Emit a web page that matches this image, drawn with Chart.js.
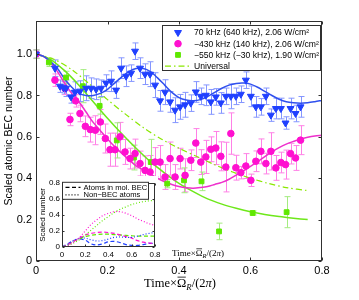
<!DOCTYPE html>
<html><head><meta charset="utf-8">
<script src="https://cdn.jsdelivr.net/npm/chart.js@4.4.1/dist/chart.umd.min.js"></script>
<style>
html,body{margin:0;padding:0;background:#fff;}
#wrap{position:relative;width:359px;height:300px;overflow:hidden;}
#main{position:absolute;left:0;top:0;}
#inset{position:absolute;left:37px;top:176px;}
</style></head><body>
<div id="wrap"><canvas id="main" width="359" height="300"></canvas><canvas id="inset" width="200" height="84"></canvas></div>
<script>
// ---------- data ----------
const xTicks = [0, 0.2, 0.4, 0.6, 0.8];
const yTicks = [0, 0.2, 0.4, 0.6, 0.8, 1];
const insetTicks = [0, 0.2, 0.4, 0.6, 0.8];

const legendLabels = ["70 kHz (640 kHz), 2.06 W/cm\u00B2", "\u2212430 kHz (140 kHz), 2.06 W/cm\u00B2", "\u2212550 kHz (\u221230 kHz), 1.90 W/cm\u00B2", "Universal"];
const insetLegendLabels = ["Atoms in mol. BEC", "Non\u2212BEC atoms"];

const blueX = [0,0.053,0.067,0.077,0.084,0.098,0.109,0.123,0.140,0.154,0.168,0.182,0.196,0.210,0.224,0.238,0.252,0.266,0.277,0.291,0.305,0.319,0.333,0.347,0.361,0.375,0.389,0.403,0.417,0.433,0.447,0.461,0.475,0.489,0.503,0.517,0.531,0.545,0.559,0.573,0.587,0.601,0.615,0.629,0.643,0.657,0.671,0.685,0.698,0.712,0.726,0.740];
const blueY = [1.0,0.932,0.845,0.837,0.835,0.793,0.816,0.821,0.835,0.835,0.83,0.835,0.86,0.869,0.826,0.932,0.893,0.908,1.014,0.932,0.903,0.903,0.850,0.774,0.816,0.769,0.729,0.745,0.755,0.763,0.817,0.796,0.801,0.769,0.793,0.764,0.796,0.796,0.796,0.806,0.874,0.796,0.745,0.745,0.796,0.705,0.737,0.737,0.667,0.737,0.713,0.745];
const blueErr = [0.02,0.04,0.03,0.03,0.04,0.03,0.05,0.05,0.06,0.05,0.05,0.04,0.04,0.05,0.04,0.05,0.05,0.04,0.04,0.05,0.05,0.06,0.06,0.05,0.06,0.05,0.06,0.06,0.06,0.04,0.05,0.04,0.05,0.06,0.04,0.05,0.04,0.06,0.04,0.04,0.04,0.05,0.05,0.04,0.04,0.03,0.05,0.05,0.03,0.05,0.04,0.05];

const magX = [0,0.053,0.081,0.095,0.111,0.123,0.138,0.152,0.166,0.180,0.194,0.207,0.221,0.235,0.249,0.263,0.277,0.291,0.305,0.319,0.333,0.347,0.361,0.375,0.389,0.403,0.417,0.433,0.447,0.461,0.475,0.489,0.503,0.517,0.531,0.545,0.559,0.573,0.587,0.601,0.615,0.629,0.643,0.657,0.671,0.685,0.698,0.712,0.726,0.740];
const magY = [1.0,0.874,0.834,0.684,0.774,0.713,0.651,0.635,0.632,0.672,0.592,0.538,0.538,0.60,0.527,0.495,0.519,0.471,0.438,0.43,0.478,0.478,0.406,0.495,0.406,0.495,0.414,0.487,0.57,0.478,0.503,0.54,0.546,0.506,0.454,0.616,0.451,0.427,0.459,0.39,0.482,0.53,0.471,0.53,0.45,0.476,0.466,0.519,0.498,0.584];
const magErr = [0.02,0.03,0.03,0.03,0.03,0.04,0.05,0.06,0.07,0.06,0.07,0.08,0.08,0.07,0.06,0.05,0.07,0.06,0.07,0.08,0.07,0.08,0.06,0.08,0.06,0.05,0.08,0.05,0.07,0.06,0.08,0.06,0.08,0.07,0.12,0.10,0.06,0.03,0.06,0.03,0.05,0.06,0.05,0.09,0.06,0.05,0.07,0.05,0.06,0.07];

const greenX = [0,0.036,0.084,0.131,0.178,0.226,0.274,0.321,0.367,0.414,0.463,0.512,0.606,0.701];
const greenY = [1.0,0.96,0.887,0.845,0.75,0.583,0.50,0.478,0.374,0.39,0.385,0.143,0.232,0.236];
const greenErr = [0.02,0.02,0.03,0.08,0.04,0.085,0.06,0.11,0.02,0.06,0.045,0.04,0.01,0.075];

const fitX = [0,0.02,0.04,0.06,0.08,0.10,0.12,0.14,0.16,0.18,0.20,0.22,0.24,0.26,0.28,0.30,0.32,0.34,0.36,0.38,0.40,0.42,0.44,0.46,0.48,0.50,0.52,0.54,0.56,0.58,0.60,0.62,0.64,0.66,0.68,0.70,0.72,0.74,0.76,0.78,0.80];
const blueFitY = [1.0,0.99,0.965,0.93,0.88,0.84,0.81,0.80,0.80,0.81,0.83,0.86,0.89,0.915,0.93,0.93,0.915,0.885,0.85,0.815,0.79,0.778,0.775,0.78,0.795,0.815,0.835,0.85,0.858,0.86,0.855,0.84,0.82,0.80,0.782,0.77,0.765,0.763,0.765,0.77,0.776];
const magFitY = [1.0,0.99,0.96,0.915,0.86,0.81,0.77,0.72,0.67,0.63,0.59,0.553,0.52,0.49,0.46,0.44,0.42,0.40,0.383,0.37,0.36,0.354,0.352,0.355,0.36,0.37,0.38,0.395,0.415,0.435,0.457,0.48,0.505,0.528,0.548,0.565,0.578,0.59,0.598,0.604,0.608];
const greenFitX = [0,0.04,0.08,0.12,0.16,0.20,0.24,0.28,0.32,0.36,0.40,0.44,0.48,0.52,0.56,0.60,0.64,0.68,0.72,0.76];
const greenFitY = [1.0,0.975,0.92,0.85,0.77,0.69,0.615,0.545,0.48,0.425,0.375,0.335,0.30,0.275,0.255,0.238,0.225,0.215,0.207,0.20];
const universalX = [0,0.05,0.1,0.15,0.2,0.25,0.3,0.35,0.4,0.45,0.5,0.55,0.6,0.65,0.7,0.76];
const universalY = [1.0,0.975,0.925,0.855,0.78,0.71,0.645,0.59,0.545,0.505,0.465,0.43,0.40,0.375,0.355,0.34];

const insetX = [0,0.05,0.1,0.15,0.2,0.25,0.3,0.35,0.4,0.45,0.5,0.55,0.6,0.65,0.7,0.75,0.8];
const blueMol = [0,0.04,0.08,0.1,0.085,0.04,0.025,0.04,0.065,0.07,0.055,0.03,0.02,0.02,0.03,0.045,0.045];
const blueNon = [0,0.03,0.08,0.11,0.11,0.09,0.075,0.08,0.1,0.12,0.125,0.12,0.12,0.135,0.155,0.17,0.18];
const magMol = [0,0.03,0.07,0.11,0.15,0.17,0.18,0.185,0.18,0.17,0.15,0.13,0.11,0.08,0.06,0.05,0.04];
const magNon = [0,0.02,0.06,0.12,0.2,0.28,0.34,0.39,0.42,0.44,0.44,0.42,0.39,0.35,0.32,0.29,0.27];
const greenMol = [0,0.03,0.07,0.1,0.13,0.145,0.155,0.16,0.16,0.155,0.15,0.145,0.14,0.135,0.135,0.135,0.135];
const greenNon = [0,0.02,0.05,0.09,0.15,0.21,0.27,0.33,0.38,0.43,0.47,0.50,0.53,0.55,0.565,0.575,0.58];

// ---------- styles ----------
const SANS = '"Liberation Sans", Arial, sans-serif';
const SERIF = '"Liberation Serif", "DejaVu Serif", serif';
const C = {
  blue:'#2040ff', blueErr:'#8596ff', blueLine:'#3050ee',
  mag:'#ff10d0', magErr:'#ff80e6', magLine:'#ee30cc',
  green:'#5fe800', greenErr:'#a4ec80', greenLine:'#6ee81a', uni:'#8ae800'
};
const pts = (xs, ys) => xs.map((x, i) => ({x, y: ys[i]}));

const errorBars = {
  id: 'errorBars',
  beforeDatasetsDraw(chart) {
    const {ctx, scales: {x, y}} = chart;
    chart.data.datasets.forEach(ds => {
      if (!ds.errors) return;
      ctx.save();
      ctx.strokeStyle = ds.errColor; ctx.lineWidth = 1;
      ds.data.forEach((p, i) => {
        const e = ds.errors[i];
        const px = Math.round(x.getPixelForValue(p.x)) + 0.5;
        const y1 = y.getPixelForValue(p.y + e), y2 = y.getPixelForValue(p.y - e);
        ctx.beginPath();
        ctx.moveTo(px, y1); ctx.lineTo(px, y2);
        ctx.moveTo(px - 3, y1); ctx.lineTo(px + 3, y1);
        ctx.moveTo(px - 3, y2); ctx.lineTo(px + 3, y2);
        ctx.stroke();
      });
      ctx.restore();
    });
  }
};

function frameAndTicks(chart, xt, yt, len) {
  const {ctx, chartArea: a, scales: {x, y}} = chart;
  ctx.save();
  ctx.strokeStyle = '#303030'; ctx.lineWidth = 1;
  const L = Math.round(a.left) + 0.5, R = Math.round(a.right) - 0.5, T = Math.round(a.top) + 0.5, B = Math.round(a.bottom) - 0.5;
  ctx.strokeRect(L, T, R - L, B - T);
  ctx.beginPath();
  xt.forEach(v => { const px = Math.round(x.getPixelForValue(v)) + 0.5; ctx.moveTo(px, B); ctx.lineTo(px, B - len); ctx.moveTo(px, T); ctx.lineTo(px, T + len); });
  yt.forEach(v => { const py = Math.round(y.getPixelForValue(v)) + 0.5; ctx.moveTo(L, py); ctx.lineTo(L + len, py); ctx.moveTo(R, py); ctx.lineTo(R - len, py); });
  ctx.stroke();
  ctx.restore();
}

function drawTimeLabel(ctx, cx, cy, size) {
  const parts = [
    {t: 'Time\u00D7', f: size + 'px ' + SERIF, dy: 0},
    {t: '\u03A9', f: size + 'px ' + SERIF, dy: 0, bar: true},
    {t: 'R', f: 'italic ' + (size * 0.7) + 'px ' + SERIF, dy: size * 0.22},
    {t: '/(2', f: size + 'px ' + SERIF, dy: 0},
    {t: '\u03C0', f: 'italic ' + size + 'px ' + SERIF, dy: 0},
    {t: ')', f: size + 'px ' + SERIF, dy: 0}
  ];
  ctx.save();
  ctx.fillStyle = '#000'; ctx.textBaseline = 'alphabetic'; ctx.textAlign = 'left';
  let w = 0;
  parts.forEach(p => { ctx.font = p.f; p.w = ctx.measureText(p.t).width; w += p.w; });
  let x = cx - w / 2;
  const base = cy + size * 0.35;
  parts.forEach(p => {
    ctx.font = p.f;
    ctx.fillText(p.t, x, base + p.dy);
    if (p.bar) {
      ctx.strokeStyle = '#000'; ctx.lineWidth = Math.max(0.7, size / 16);
      ctx.beginPath(); const yb = base - size * 0.82; ctx.moveTo(x + 0.5, yb); ctx.lineTo(x + p.w - 0.5, yb); ctx.stroke();
    }
    x += p.w;
  });
  ctx.restore();
}

const mainDecor = {
  id: 'mainDecor',
  afterDraw(chart) {
    frameAndTicks(chart, xTicks, yTicks, 3);
    const ctx = chart.ctx;
    // y title
    ctx.save();
    ctx.translate(9, (chart.chartArea.top + chart.chartArea.bottom) / 2);
    ctx.rotate(-Math.PI / 2);
    ctx.font = '10.5px ' + SANS; ctx.fillStyle = '#000'; ctx.textAlign = 'center'; ctx.textBaseline = 'middle';
    ctx.fillText('Scaled atomic BEC number', 0, 0);
    ctx.restore();
    drawTimeLabel(ctx, 180, 283, 12.5);
    // legend
    const bx = 162.5, by = 25.5, bw = 158, bh = 45;
    ctx.save();
    ctx.fillStyle = '#fff'; ctx.fillRect(bx, by, bw, bh);
    ctx.strokeStyle = '#303030'; ctx.lineWidth = 1; ctx.strokeRect(bx, by, bw, bh);
    const items = [chart.data.datasets[0], chart.data.datasets[1], chart.data.datasets[2], chart.data.datasets[6]];
    items.forEach((ds, i) => {
      const yy = 32.5 + i * 11.2;
      if (i < 3) {
        ctx.fillStyle = ds.backgroundColor; ctx.strokeStyle = ds.borderColor; ctx.lineWidth = 1;
        Chart.helpers.drawPoint(ctx, {pointStyle: ds.pointStyle, rotation: ds.rotation || 0, radius: ds.pointRadius, borderWidth: 1}, 178, yy);
      } else {
        ctx.strokeStyle = ds.borderColor; ctx.lineWidth = ds.borderWidth; ctx.setLineDash(ds.borderDash);
        ctx.beginPath(); ctx.moveTo(165, yy); ctx.lineTo(191, yy); ctx.stroke(); ctx.setLineDash([]);
      }
      ctx.fillStyle = '#000'; ctx.font = '8.6px ' + SANS; ctx.textAlign = 'left'; ctx.textBaseline = 'middle';
      ctx.fillText(legendLabels[i], 194, yy + 0.5);
    });
    ctx.restore();
  }
};

const tickFont = {family: SANS, size: 11};
new Chart(document.getElementById('main'), {
  type: 'scatter',
  data: {
    datasets: [
      {label: legendLabels[0], data: pts(blueX, blueY), errors: blueErr, errColor: C.blueErr, pointStyle: 'triangle', rotation: 180, pointRadius: 4, backgroundColor: C.blue, borderColor: C.blue, borderWidth: 1, showLine: false, order: 0},
      {label: legendLabels[1], data: pts(magX, magY), errors: magErr, errColor: C.magErr, pointStyle: 'circle', pointRadius: 3.3, backgroundColor: C.mag, borderColor: C.mag, borderWidth: 1, showLine: false, order: 1},
      {label: legendLabels[2], data: pts(greenX, greenY), errors: greenErr, errColor: C.greenErr, pointStyle: 'rect', pointRadius: 3.4, backgroundColor: C.green, borderColor: C.green, borderWidth: 1, showLine: false, order: 2},
      {label: 'fit blue', data: pts(fitX, blueFitY), showLine: true, pointRadius: 0, borderColor: C.blueLine, borderWidth: 1.5, tension: 0.3, order: 3},
      {label: 'fit mag', data: pts(fitX, magFitY), showLine: true, pointRadius: 0, borderColor: C.magLine, borderWidth: 1.5, tension: 0.3, order: 4},
      {label: 'fit green', data: pts(greenFitX, greenFitY), showLine: true, pointRadius: 0, borderColor: C.greenLine, borderWidth: 1.5, tension: 0.3, order: 5},
      {label: legendLabels[3], data: pts(universalX, universalY), showLine: true, pointRadius: 0, borderColor: C.uni, borderWidth: 1.2, borderDash: [6, 3, 1.5, 3], tension: 0.3, order: 6}
    ]
  },
  options: {
    responsive: false, animation: false, devicePixelRatio: 1,
    layout: {padding: {left: 6, top: 21, right: 37, bottom: 19}},
    plugins: {legend: {display: false}, tooltip: {enabled: false}},
    scales: {
      x: {type: 'linear', min: 0, max: 0.8, grid: {display: false, drawTicks: false}, border: {display: false},
          ticks: {font: tickFont, color: '#000', padding: 3, maxRotation: 0},
          afterBuildTicks: s => { s.ticks = xTicks.map(v => ({value: v})); },
          afterFit: s => { s.height = 20; }},
      y: {type: 'linear', min: 0, max: 1.16, grid: {display: false, drawTicks: false}, border: {display: false},
          ticks: {font: tickFont, color: '#000', padding: 4},
          afterBuildTicks: s => { s.ticks = yTicks.map(v => ({value: v})); },
          afterFit: s => { s.width = 30; }}
    }
  },
  plugins: [errorBars, mainDecor]
});

// ---------- inset ----------
const insetDecor = {
  id: 'insetDecor',
  beforeDraw(chart) {
    const ctx = chart.ctx;
    ctx.save(); ctx.fillStyle = '#fff'; ctx.fillRect(0, 0, 121, 84); ctx.restore();
  },
  afterDraw(chart) {
    frameAndTicks(chart, insetTicks, insetTicks, 2);
    const ctx = chart.ctx, a = chart.chartArea;
    ctx.save();
    ctx.translate(6, (a.top + a.bottom) / 2);
    ctx.rotate(-Math.PI / 2);
    ctx.font = '8px ' + SANS; ctx.fillStyle = '#000'; ctx.textAlign = 'center'; ctx.textBaseline = 'middle';
    ctx.fillText('Scaled number', 0, 0);
    ctx.restore();
    drawTimeLabel(ctx, 161, 77, 9);
    // legend
    ctx.save();
    const bx = a.left + 0.5, by = a.top - 0.5, bw = 86, bh = 17;
    ctx.fillStyle = '#fff'; ctx.fillRect(bx, by, bw, bh);
    ctx.strokeStyle = '#303030'; ctx.lineWidth = 1; ctx.strokeRect(bx, by, bw, bh);
    const dashes = [[4, 2.5], [1, 2]];
    insetLegendLabels.forEach((t, i) => {
      const yy = by + 5 + i * 7.6;
      ctx.strokeStyle = '#000'; ctx.lineWidth = 1.3; ctx.setLineDash(dashes[i]);
      ctx.beginPath(); ctx.moveTo(bx + 3, yy); ctx.lineTo(bx + 18, yy); ctx.stroke(); ctx.setLineDash([]);
      ctx.fillStyle = '#000'; ctx.font = '7.6px ' + SANS; ctx.textAlign = 'left'; ctx.textBaseline = 'middle';
      ctx.fillText(t, bx + 21, yy + 0.5);
    });
    ctx.restore();
  }
};
const insetFont = {family: SANS, size: 8};
const dash = [4, 2.5], dot = [1, 2];
new Chart(document.getElementById('inset'), {
  type: 'scatter',
  data: {
    datasets: [
      {data: pts(insetX, magNon), borderColor: C.mag, borderDash: dot},
      {data: pts(insetX, greenNon), borderColor: C.green, borderDash: dot},
      {data: pts(insetX, blueNon), borderColor: C.blue, borderDash: dot},
      {data: pts(insetX, magMol), borderColor: C.mag, borderDash: dash},
      {data: pts(insetX, greenMol), borderColor: C.green, borderDash: dash},
      {data: pts(insetX, blueMol), borderColor: C.blue, borderDash: dash}
    ].map(d => Object.assign(d, {showLine: true, pointRadius: 0, borderWidth: 1.2, tension: 0.35}))
  },
  options: {
    responsive: false, animation: false, devicePixelRatio: 1,
    layout: {padding: {left: 7, top: 6, right: 82, bottom: 1}},
    plugins: {legend: {display: false}, tooltip: {enabled: false}},
    scales: {
      x: {type: 'linear', min: 0, max: 0.8, grid: {display: false, drawTicks: false}, border: {display: false},
          ticks: {font: insetFont, color: '#000', padding: 3, maxRotation: 0},
          afterBuildTicks: s => { s.ticks = insetTicks.map(v => ({value: v})); },
          afterFit: s => { s.height = 12; }},
      y: {type: 'linear', min: 0, max: 0.8, grid: {display: false, drawTicks: false}, border: {display: false},
          ticks: {font: insetFont, color: '#000', padding: 2},
          afterBuildTicks: s => { s.ticks = insetTicks.map(v => ({value: v})); },
          afterFit: s => { s.width = 18; }}
    }
  },
  plugins: [insetDecor]
});
</script>
</body></html>
